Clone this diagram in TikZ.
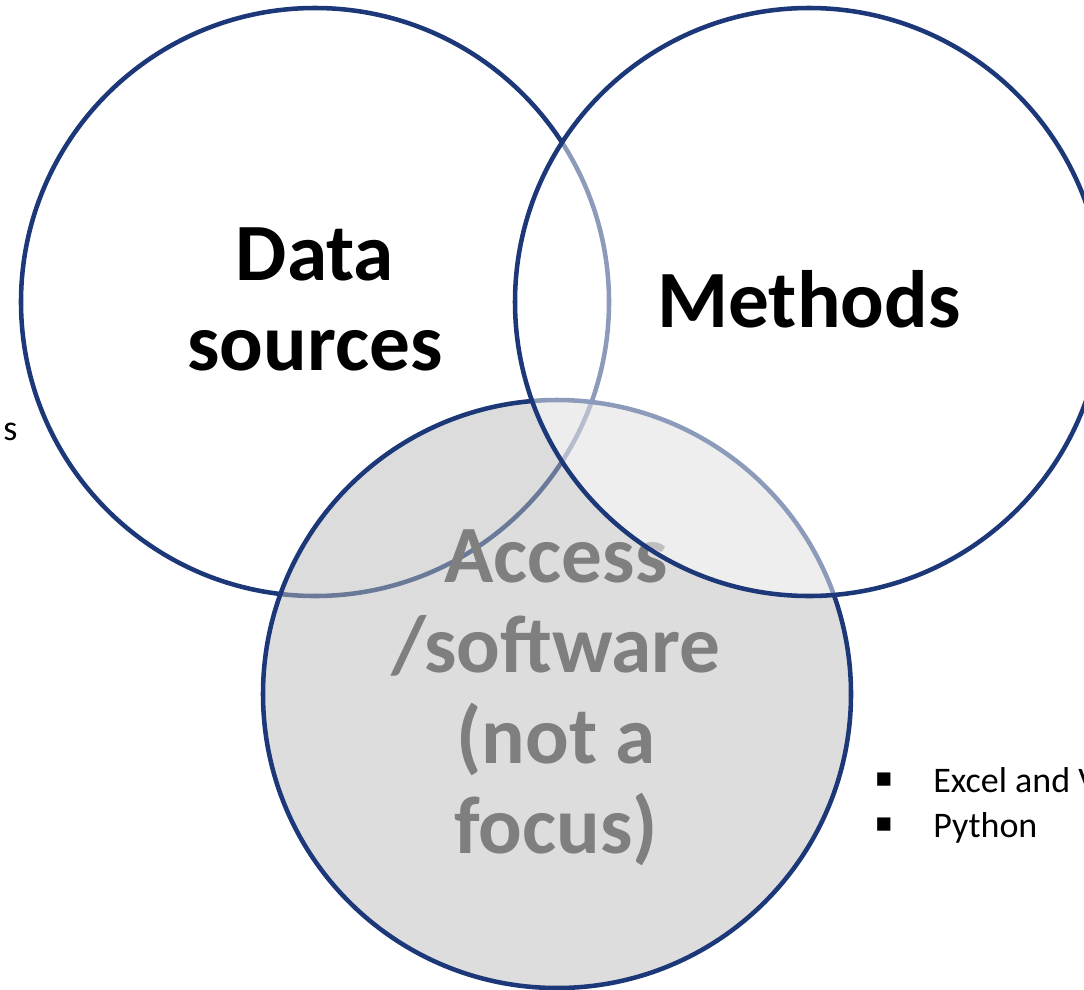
\documentclass[tikz,border=0pt]{standalone}
\usepackage{fontspec}
\setmainfont{Carlito}
\newfontfamily\symfont{DejaVu Sans}
\definecolor{ringblue}{RGB}{28,56,120}
\definecolor{accgray}{RGB}{127,127,127}
\definecolor{accfill}{RGB}{187,187,187}
\begin{document}
\begin{tikzpicture}[x=0.75pt,y=-0.75pt,
  ring/.style={circle, draw=ringblue, line width=3.4pt, minimum size=441pt, inner sep=0pt, outer sep=0pt},
  bigtxt/.style={font=\fontsize{61}{67}\selectfont\bfseries, anchor=base, inner sep=0pt},
  smalltxt/.style={font=\fontsize{27}{33}\selectfont, anchor=base west, inner sep=0pt},
  bulletmark/.style={font=\symfont\fontsize{20}{24}\selectfont, inner sep=0pt}]
\useasboundingbox (0,0) rectangle (1084,989);
% Data sources circle (bottom)
\node[ring, fill=white] (ds) at (315,302) {};
% Access circle (semi-transparent grey)
\node[ring, fill=accfill, fill opacity=0.5, draw opacity=1] (acc) at (557,694) {};
\node[bigtxt, text=accgray] (acc1) at (556,582) {Access};
\node[bigtxt, text=accgray] (acc2) at (556,672) {/software};
\node[bigtxt, text=accgray] (acc3) at (556,763) {(not a};
\node[bigtxt, text=accgray] (acc4) at (556,853) {focus)};
% Methods circle (top, semi-transparent white)
\node[ring, fill=white, fill opacity=0.5, draw opacity=1] (me) at (809,302) {};
% labels
\node[bigtxt] (ds1) at (315,280) {Data};
\node[bigtxt] (ds2) at (315,370) {sources};
\node[bigtxt] (me1) at (809,327) {Methods};
% side texts
\node[smalltxt] (sl) at (3,440) {s};
\node[bulletmark] (b1) at (884,780) {▪};
\node[bulletmark] (b2) at (884,825) {▪};
\node[smalltxt] (t1) at (933,792) {Excel and V};
\node[smalltxt] (t2) at (933,837) {Python};
\end{tikzpicture}
\end{document}
